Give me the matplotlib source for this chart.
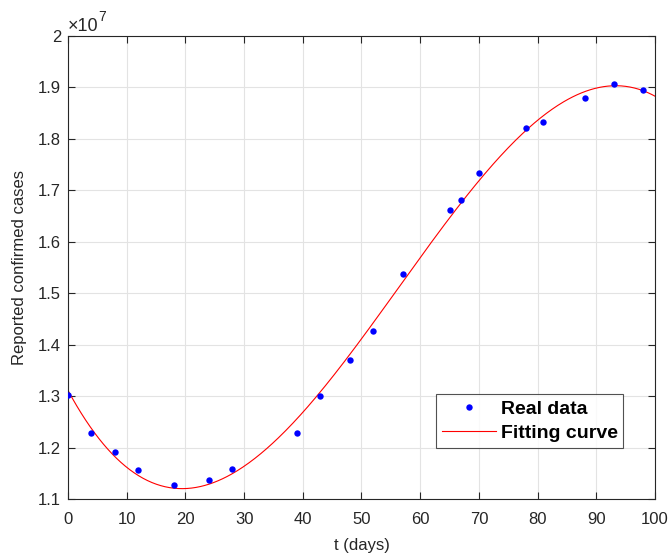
import numpy as np
import matplotlib
matplotlib.use("Agg")
import matplotlib.pyplot as plt
from matplotlib.ticker import FixedLocator, FuncFormatter

# Data
t_days = [0, 4, 8, 12, 18, 24, 28, 39, 43, 48, 52, 57, 65, 67, 70, 78, 81, 88, 93, 98]
cases = [1.303e7, 1.228e7, 1.192e7, 1.157e7, 1.128e7, 1.138e7, 1.159e7, 1.229e7,
         1.301e7, 1.370e7, 1.427e7, 1.537e7, 1.662e7, 1.682e7, 1.734e7, 1.821e7,
         1.832e7, 1.880e7, 1.906e7, 1.896e7]
x_ticks = [0, 10, 20, 30, 40, 50, 60, 70, 80, 90, 100]
y_ticks = [1.1e7, 1.2e7, 1.3e7, 1.4e7, 1.5e7, 1.6e7, 1.7e7, 1.8e7, 1.9e7, 2.0e7]

# Fitting curve: cubic least-squares fit of the real data
coef = np.polyfit(t_days, cases, 3)
t_fit = np.linspace(0, 100, 400)
c_fit = np.polyval(coef, t_fit)

plt.rcParams['font.family'] = ['Liberation Sans', 'DejaVu Sans']
dark = '#262626'

fig = plt.figure(figsize=(6.68, 5.54), dpi=100)
ax = fig.add_axes([0.1018, 0.0987, 0.8787, 0.8363])

ax.plot(t_days, cases, 'o', color='#0000ff', markersize=4.6, markeredgewidth=0,
        label='Real data', zorder=3)
ax.plot(t_fit, c_fit, '-', color='#ff0000', linewidth=0.8, label='Fitting curve', zorder=2)

ax.set_xlim(0, 100)
ax.set_ylim(1.1e7, 2.0e7)
ax.xaxis.set_major_locator(FixedLocator(x_ticks))
ax.yaxis.set_major_locator(FixedLocator(y_ticks))
ax.yaxis.set_major_formatter(FuncFormatter(lambda v, p: ('%g' % round(v / 1e7, 2))))
ax.xaxis.set_major_formatter(FuncFormatter(lambda v, p: '%d' % v))

ax.grid(True, color='#e3e3e3', linewidth=0.8)
ax.set_axisbelow(True)
ax.tick_params(direction='in', top=True, right=True, length=5, width=0.8,
               colors=dark, labelsize=12)
ax.tick_params(axis='x', pad=9)
ax.tick_params(axis='y', pad=5)
for s in ax.spines.values():
    s.set_color(dark)
    s.set_linewidth(0.8)

ax.text(0.0, 1.002, '\u00d710', transform=ax.transAxes, fontsize=13,
        color=dark, ha='left', va='bottom')
ax.text(0.0515, 1.025, '7', transform=ax.transAxes, fontsize=10,
        color=dark, ha='left', va='bottom')

ax.set_xlabel('t (days)', fontsize=12, color=dark, labelpad=8)
ax.set_ylabel('Reported confirmed cases', fontsize=12, color=dark, labelpad=8)

leg = ax.legend(loc='lower left', bbox_to_anchor=(0.627, 0.111, 0.318, 0.123),
                mode='expand', frameon=True, fancybox=False, edgecolor=dark,
                prop={'weight': 'bold', 'size': 14}, handlelength=2.8,
                borderpad=0.3, labelspacing=0.35, handletextpad=0.25, borderaxespad=0)
leg.get_frame().set_linewidth(0.8)
for txt in leg.get_texts():
    txt.set_color('black')

fig.savefig('out.png', dpi=100)
